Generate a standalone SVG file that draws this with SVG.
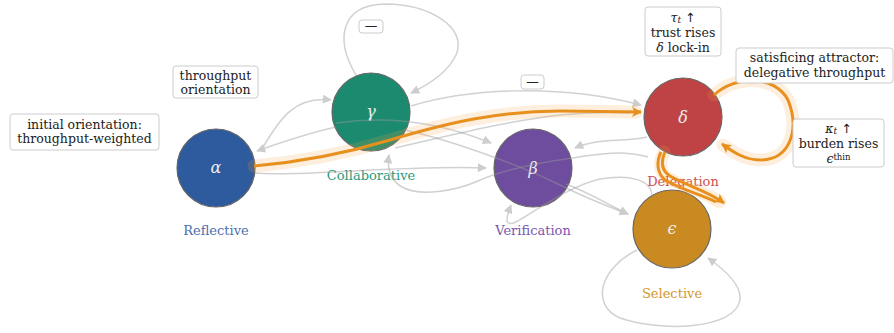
<svg xmlns="http://www.w3.org/2000/svg" width="894" height="333" viewBox="0 0 894 333">
<style>
.node{stroke:#666;stroke-width:1.2}
.glyph{font-style:italic;font-size:16px;fill:#eee;text-anchor:middle}
.lbl{font-size:13px;text-anchor:middle}
.box{fill:#fff;stroke:#ccc;stroke-width:1}
.bt{font-size:12.5px;fill:#222;text-anchor:middle}
.g{fill:none;stroke:#999;stroke-opacity:0.45;stroke-width:1.5}
.halo{fill:none;stroke:#f5a040;stroke-opacity:0.18;stroke-width:13;stroke-linecap:round}
.o{fill:none;stroke:#e8901e;stroke-width:3}
</style>
<defs>
<marker id="ag" viewBox="0 0 10 10" refX="9" refY="5" markerWidth="11" markerHeight="9" markerUnits="userSpaceOnUse" orient="auto"><path d="M0,0 L10,5 L0,10 z" fill="#cdcdcd"/></marker>
<marker id="ao" viewBox="0 0 10 10" refX="9" refY="5" markerWidth="12" markerHeight="10" markerUnits="userSpaceOnUse" orient="auto"><path d="M0,0 L10,5 L0,10 L2.5,5 z" fill="#e8901e"/></marker>
</defs>
<rect width="894" height="333" fill="#fff"/>
<g font-family="DejaVu Serif, serif">
<g id="node-alpha"><circle class="node" cx="216" cy="168" r="39" fill="#2e5a9e"/><text class="glyph" x="216" y="173">α</text><text class="lbl" x="216" y="235" fill="#4a70b2">Reflective</text></g>
<g id="node-gamma"><circle class="node" cx="371" cy="112" r="39" fill="#1b8a6f"/><text class="glyph" x="371" y="117">γ</text><text class="lbl" x="371" y="180" fill="#2a9a7c">Collaborative</text></g>
<g id="node-beta"><circle class="node" cx="533" cy="168" r="39" fill="#6e4c9e"/><text class="glyph" x="533" y="174">β</text><text class="lbl" x="533" y="235" fill="#7a55b0">Verification</text></g>
<g id="node-delta"><circle class="node" cx="683" cy="117" r="39" fill="#bf4244"/><text class="glyph" x="683" y="123">δ</text><text class="lbl" x="683" y="186" fill="#d05050">Delegation</text></g>
<g id="node-epsilon"><circle class="node" cx="672" cy="229" r="39" fill="#c98a22"/><text class="glyph" x="672" y="234">ϵ</text><text class="lbl" x="672" y="298" fill="#d4962e">Selective</text></g>
<g id="connectors">
<path class="g" d="M356,75 C335,40 340,5 385,4 C430,4 468,28 456,55 C448,72 430,84 411,93" marker-end="url(#ag)"/>
<path class="g" d="M262,149 C280,118 295,96 331,100" marker-end="url(#ag)"/>
<path class="g" d="M336,127 C305,134 282,142 257,151" marker-end="url(#ag)"/>
<path class="g" d="M336,123 C370,118 425,116 491,143" marker-end="url(#ag)"/>
<path class="g" d="M255,173 C300,177 400,165 486,168" marker-end="url(#ag)"/>
<path class="g" d="M405,130 C450,140 520,165 560,185 C590,200 610,207 628,214" marker-end="url(#ag)"/>
<path class="g" d="M566,184 C590,193 607,204 628,214" marker-end="url(#ag)"/>
<path class="g" d="M647,137 C620,143 600,137 575,148" marker-end="url(#ag)"/>
<path class="g" d="M648,157 C620,149 592,155 572,158 C530,164 500,171 478,181 C455,191 420,197 402,187 C390,180 387,168 389,155" marker-end="url(#ag)"/>
<path class="g" d="M652,196 C652,180 630,174 600,179 C570,186 540,208 516,222 C505,227 505,220 511,205" marker-end="url(#ag)"/>
<path class="g" d="M411,106 C470,88 560,84 641,105" marker-end="url(#ag)"/>
<path class="g" d="M395,148 C440,138 500,122 560,115 C590,112 610,112 630,113"/>
<path class="g" d="M637,250 C600,268 590,305 620,318 C660,332 735,330 740,300 C742,285 725,270 708,258" marker-end="url(#ag)"/>
<path class="halo" d="M254,166 C300,162 340,155 390,140 C450,122 500,111 560,111 L636,112"/>
<path class="halo" d="M714,95 C735,75 775,75 788,100 C800,130 790,160 760,160 C745,160 733,152 723,145"/>
<path class="halo" d="M664,152 C659,162 659,172 668,178 C685,188 705,192 720,202"/>
<path class="o" d="M254,166 C300,162 340,155 390,140 C450,122 500,111 560,111 L641,112" marker-end="url(#ao)"/>
<path class="o" d="M714,95 C735,75 775,75 788,100 C800,130 790,160 760,160 C745,160 733,152 722,144" marker-end="url(#ao)"/>
<path class="o" d="M661,152 C656,162 657,173 665,180 C682,190 700,194 716,202"/>
<path class="o" d="M665,152 C661,161 661,170 670,176 C687,186 706,190 724,203" marker-end="url(#ao)"/>
</g>
<g id="note-initial"><rect class="box" x="10" y="114" width="149" height="36" rx="3"/><text class="bt" x="84.5" y="128.5">initial orientation:</text><text class="bt" x="84.5" y="143">throughput-weighted</text></g>
<g id="note-throughput"><rect class="box" x="173" y="66" width="85" height="32" rx="3"/><text class="bt" x="215.5" y="79.5">throughput</text><text class="bt" x="215.5" y="94">orientation</text></g>
<g id="note-dash1"><rect class="box" x="359" y="20" width="24" height="13" rx="3"/><text class="bt" x="371" y="30" fill="#777">—</text></g>
<g id="note-dash2"><rect class="box" x="521" y="75" width="23" height="14" rx="3"/><text class="bt" x="532.5" y="86" fill="#777">—</text></g>
<g id="note-tau"><rect class="box" x="645" y="7" width="76" height="49" rx="3"/><text class="bt" x="683" y="21.5"><tspan font-style="italic">τ</tspan><tspan font-style="italic" font-size="9px" dy="1.5">t</tspan><tspan dy="-1.5" font-family="DejaVu Sans, sans-serif" fill="#222"> ↑</tspan></text><text class="bt" x="683" y="37">trust rises</text><text class="bt" x="683" y="51.5"><tspan font-style="italic">δ</tspan> lock-in</text></g>
<g id="note-satisficing"><rect class="box" x="736" y="48" width="157" height="35" rx="3"/><text class="bt" x="814.5" y="61.5">satisficing attractor:</text><text class="bt" x="814.5" y="77">delegative throughput</text></g>
<g id="note-kappa"><rect class="box" x="793" y="119" width="91" height="48" rx="3"/><text class="bt" x="838.5" y="132.5"><tspan font-style="italic">κ</tspan><tspan font-style="italic" font-size="9px" dy="1.5">t</tspan><tspan dy="-1.5" font-family="DejaVu Sans, sans-serif" fill="#222"> ↑</tspan></text><text class="bt" x="838.5" y="148">burden rises</text><text class="bt" x="838.5" y="163"><tspan font-style="italic">ϵ</tspan><tspan font-size="8.5px" dy="-3">thin</tspan></text></g>
</g>
</svg>
